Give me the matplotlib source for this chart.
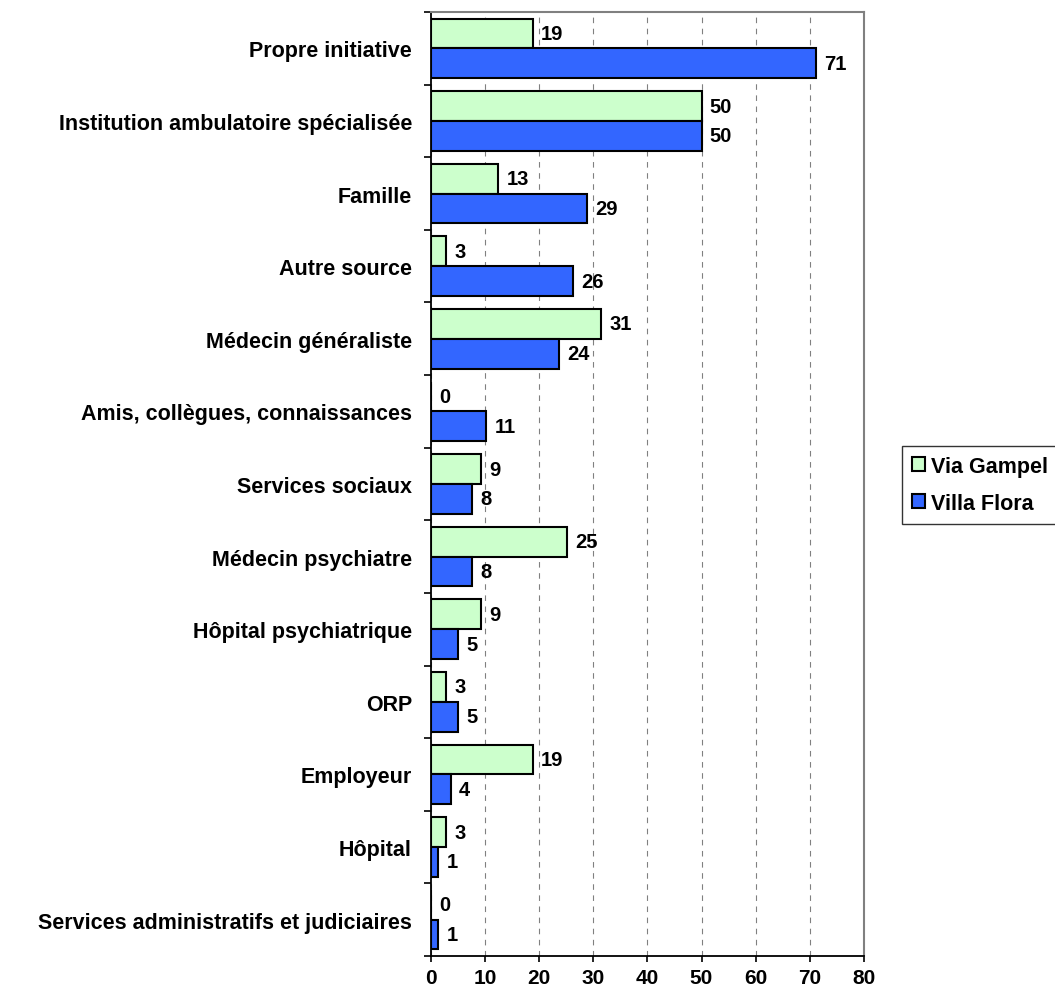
import numpy as np
import matplotlib
matplotlib.use("Agg")
import matplotlib.pyplot as plt

plt.rcParams['font.family'] = ['Liberation Sans', 'DejaVu Sans']
plt.rcParams['font.weight'] = 'bold'

# catégories, de haut en bas
categories = [
    "Propre initiative",
    "Institution ambulatoire spécialisée",
    "Famille",
    "Autre source",
    "Médecin généraliste",
    "Amis, collègues, connaissances",
    "Services sociaux",
    "Médecin psychiatre",
    "Hôpital psychiatrique",
    "ORP",
    "Employeur",
    "Hôpital",
    "Services administratifs et judiciaires",
]

# longueurs des barres
via_gampel = [18.8, 50.0, 12.5, 2.8, 31.4, 0.0, 9.2, 25.1, 9.2, 2.8, 18.8, 2.8, 0.0]
villa_flora = [71.1, 50.0, 28.8, 26.2, 23.6, 10.2, 7.7, 7.7, 5.1, 5.1, 3.7, 1.4, 1.4]

# étiquettes affichées
via_gampel_lbl = ["19", "50", "13", "3", "31", "0", "9", "25", "9", "3", "19", "3", "0"]
villa_flora_lbl = ["71", "50", "29", "26", "24", "11", "8", "8", "5", "5", "4", "1", "1"]

W, H = 1055, 995
fig = plt.figure(figsize=(W / 100, H / 100), dpi=100)
ax = fig.add_axes([430.7 / W, 1 - 957 / H, (864 - 430.7) / W, (957 - 13) / H])

y = np.arange(len(categories))
h = 0.41
b1 = ax.barh(y - h / 2, via_gampel, height=h, color="#CCFFCC", edgecolor="black",
             linewidth=1.5, label="Via Gampel", zorder=3)
b2 = ax.barh(y + h / 2, villa_flora, height=h, color="#3366FF", edgecolor="black",
             linewidth=1.5, label="Villa Flora", zorder=3)

ax.bar_label(b1, labels=via_gampel_lbl, padding=6, fontsize=14.5, fontweight="bold")
ax.bar_label(b2, labels=villa_flora_lbl, padding=6, fontsize=14.5, fontweight="bold")

ax.set_xlim(0, 80)
ax.set_ylim(len(categories) - 0.5, -0.5)
ax.set_xticks(range(0, 81, 10))
ax.set_yticks(y)
ax.set_yticklabels(categories, fontsize=15.5, fontweight="bold")
ax.set_yticks(np.arange(-0.5, len(categories), 1), minor=True)
ax.tick_params(axis="y", which="major", length=0, pad=13.5)
ax.tick_params(axis="y", which="minor", length=5, width=1.2, direction="out")
ax.tick_params(axis="x", length=4, width=1.2, pad=5, labelsize=15)
for t in ax.get_xticklabels():
    t.set_fontweight("bold")

ax.grid(axis="x", color="#808080", linestyle=(0, (5, 5)), linewidth=0.8, zorder=0)

for s in ["left", "bottom"]:
    ax.spines[s].set_color("black")
    ax.spines[s].set_linewidth(1.3)
for s in ["top", "right"]:
    ax.spines[s].set_color("#808080")
    ax.spines[s].set_linewidth(1.5)

leg = fig.legend(handles=[b1, b2], loc="upper left",
                 bbox_to_anchor=(902 / W, 1 - 447 / H, 0.16, 0), mode="expand",
                 fontsize=15.5, frameon=True, fancybox=False, edgecolor="black",
                 handlelength=0.6, handleheight=0.6, handletextpad=0.3,
                 borderpad=0.45, labelspacing=0.75, borderaxespad=0)
leg.get_frame().set_linewidth(1.0)
for t in leg.get_texts():
    t.set_fontweight("bold")

fig.savefig("out.png", dpi=100)
